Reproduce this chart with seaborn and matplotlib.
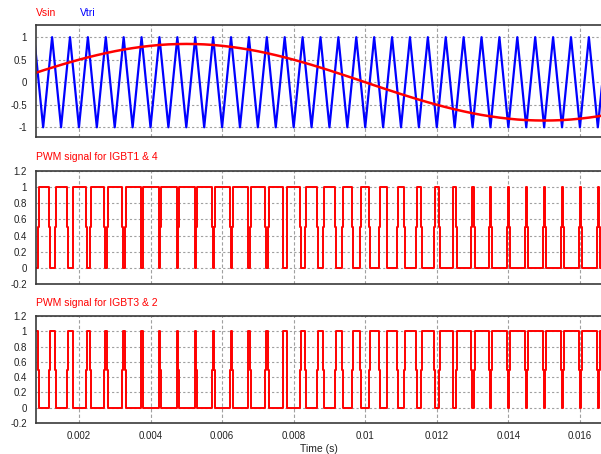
import matplotlib
matplotlib.use("Agg")
import matplotlib.pyplot as plt
import numpy as np
import pandas as pd
import seaborn as sns
from matplotlib.ticker import FuncFormatter, FixedLocator

# Vtri corner points (carrier)
tri_t = [0.0005, 0.00075, 0.001, 0.00125, 0.0015, 0.00175, 0.002, 0.00225,
         0.0025, 0.00275, 0.003, 0.00325, 0.0035, 0.00375, 0.004, 0.00425,
         0.0045, 0.00475, 0.005, 0.00525, 0.0055, 0.00575, 0.006, 0.00625,
         0.0065, 0.00675, 0.007, 0.00725, 0.0075, 0.00775, 0.008, 0.00825,
         0.0085, 0.00875, 0.009, 0.00925, 0.0095, 0.00975, 0.01, 0.01025,
         0.0105, 0.01075, 0.011, 0.01125, 0.0115, 0.01175, 0.012, 0.01225,
         0.0125, 0.01275, 0.013, 0.01325, 0.0135, 0.01375, 0.014, 0.01425,
         0.0145, 0.01475, 0.015, 0.01525, 0.0155, 0.01575, 0.016, 0.01625,
         0.0165, 0.01675, 0.017]
tri_v = [-1, 1, -1, 1, -1, 1, -1, 1, -1, 1, -1, 1, -1, 1, -1, 1,
         -1, 1, -1, 1, -1, 1, -1, 1, -1, 1, -1, 1, -1, 1, -1, 1,
         -1, 1, -1, 1, -1, 1, -1, 1, -1, 1, -1, 1, -1, 1, -1, 1,
         -1, 1, -1, 1, -1, 1, -1, 1, -1, 1, -1, 1, -1, 1, -1, 1,
         -1, 1, -1]

# Vsin samples (reference), same time points
sin_t = tri_t
sin_v = [0.133, 0.198, 0.263, 0.325, 0.386, 0.444, 0.500, 0.552,
         0.601, 0.646, 0.688, 0.725, 0.757, 0.785, 0.808, 0.827,
         0.840, 0.847, 0.850, 0.847, 0.840, 0.827, 0.808, 0.785,
         0.757, 0.725, 0.688, 0.646, 0.601, 0.552, 0.500, 0.444,
         0.386, 0.325, 0.263, 0.198, 0.133, 0.067, 0.000, -0.067,
         -0.133, -0.198, -0.263, -0.325, -0.386, -0.444, -0.500, -0.552,
         -0.601, -0.646, -0.688, -0.725, -0.757, -0.785, -0.808, -0.827,
         -0.840, -0.847, -0.850, -0.847, -0.840, -0.827, -0.808, -0.785,
         -0.757, -0.725, -0.688]

# PWM for IGBT1 & 4 is low between these times (IGBT3 & 2 is high there)
pwm_low_start = [0.000650, 0.001166, 0.001680, 0.002194, 0.002706, 0.003216,
                 0.003723, 0.004228, 0.004731, 0.005231, 0.005728, 0.006223,
                 0.006716, 0.007206, 0.007694, 0.008180, 0.008666, 0.009150,
                 0.009633, 0.010117, 0.010600, 0.011084, 0.011570, 0.012056,
                 0.012544, 0.013034, 0.013527, 0.014022, 0.014519, 0.015019,
                 0.015522, 0.016027, 0.016534]
pwm_low_end = [0.000850, 0.001334, 0.001820, 0.002306, 0.002794, 0.003284,
               0.003777, 0.004272, 0.004769, 0.005269, 0.005772, 0.006277,
               0.006784, 0.007294, 0.007806, 0.008320, 0.008834, 0.009350,
               0.009867, 0.010383, 0.010900, 0.011416, 0.011930, 0.012444,
               0.012956, 0.013466, 0.013973, 0.014478, 0.014981, 0.015481,
               0.015978, 0.016473, 0.016966]

x_ticks = [0.002, 0.004, 0.006, 0.008, 0.01, 0.012, 0.014, 0.016]
y_ticks_top = [-1, -0.5, 0, 0.5, 1]
y_ticks_pwm = [-0.2, 0, 0.2, 0.4, 0.6, 0.8, 1, 1.2]

sns.set_theme(style="white")
plt.rcParams["font.family"] = ["Liberation Sans", "DejaVu Sans"]
plt.rcParams["axes.unicode_minus"] = False


def pwm_trace(starts, ends, t0, t1, dt=0.00002):
    # step signal with the small half-level kink the simulator draws on each edge
    x, y = [t0], [1.0]
    for a, b in zip(starts, ends):
        x += [a, a, a + dt, a + dt, b, b, b + dt, b + dt]
        y += [1, 0.5, 0.5, 0, 0, 0.5, 0.5, 1]
    x.append(t1)
    y.append(1.0)
    return pd.DataFrame({"t": x, "v": y})


W, H = 601, 454
fig = plt.figure(figsize=(W / 100, H / 100), dpi=100)


def px_axes(top, bottom, left=36, right=601.4):
    return fig.add_axes([left / W, 1 - bottom / H, (right - left) / W, (bottom - top) / H])


ax1 = px_axes(25, 137)
ax2 = px_axes(171, 284)
ax3 = px_axes(316, 423)

fmt = FuncFormatter(lambda v, p: ("%g" % round(v, 4)))
grid_c = "#a0a0a0"

for ax in (ax1, ax2, ax3):
    ax.set_xlim(0.0008, 0.0166)
    ax.xaxis.set_major_locator(FixedLocator(x_ticks))
    ax.xaxis.set_major_formatter(fmt)
    ax.yaxis.set_major_formatter(fmt)
    ax.tick_params(length=0, labelsize=7, colors="#222222")
    ax.tick_params(axis="y", pad=6.5)
    ax.tick_params(axis="x", pad=6)
    ax.grid(axis="x", color=grid_c, linestyle=(0, (3, 2)), linewidth=0.8)
    ax.grid(axis="y", color=grid_c, linestyle=(0, (2, 2)), linewidth=0.8)
    for s in ("top", "bottom", "left"):
        ax.spines[s].set_color("#3a3a3a")
        ax.spines[s].set_linewidth(1.2)
    ax.spines["right"].set_visible(False)

# top: carrier and reference
ref = pd.DataFrame({"t": sin_t, "v": sin_v})
car = pd.DataFrame({"t": tri_t, "v": tri_v})
sns.lineplot(data=car, x="t", y="v", color="#0000ff", linewidth=1.6,
             estimator=None, sort=False, ax=ax1)
sns.lineplot(data=ref, x="t", y="v", color="#ff0000", linewidth=1.8,
             estimator=None, sort=False, ax=ax1)
ax1.set_ylim(-1.215, 1.27)
ax1.yaxis.set_major_locator(FixedLocator(y_ticks_top))
ax1.set_xlabel("")
ax1.set_ylabel("")
ax1.tick_params(axis="x", labelbottom=False)

# PWM panels
p1 = pwm_trace(pwm_low_start, pwm_low_end, 0.0005, 0.017)
p2 = p1.assign(v=1 - p1["v"])
sns.lineplot(data=p1, x="t", y="v", color="#ff0000", linewidth=1.4,
             estimator=None, sort=False, ax=ax2)
sns.lineplot(data=p2, x="t", y="v", color="#ff0000", linewidth=1.4,
             estimator=None, sort=False, ax=ax3)
for ax in (ax2, ax3):
    ax.set_ylim(-0.2, 1.2)
    ax.yaxis.set_major_locator(FixedLocator(y_ticks_pwm))
    ax.set_ylabel("")
ax2.set_xlabel("")
ax2.tick_params(axis="x", labelbottom=False)
ax3.set_xlabel("Time (s)", fontsize=7.5, color="#222222", labelpad=2)

# panel captions
fig.text(36 / W, 1 - 13 / H, "Vsin", color="#ff0000", fontsize=7.5, va="center")
fig.text(80 / W, 1 - 13 / H, "Vtri", color="#0000ff", fontsize=7.5, va="center")
fig.text(36 / W, 1 - 157 / H, "PWM signal for IGBT1 & 4", color="#ff0000",
         fontsize=7.5, va="center")
fig.text(36 / W, 1 - 303 / H, "PWM signal for IGBT3 & 2", color="#ff0000",
         fontsize=7.5, va="center")

fig.savefig("out.png", dpi=100, facecolor="white")
